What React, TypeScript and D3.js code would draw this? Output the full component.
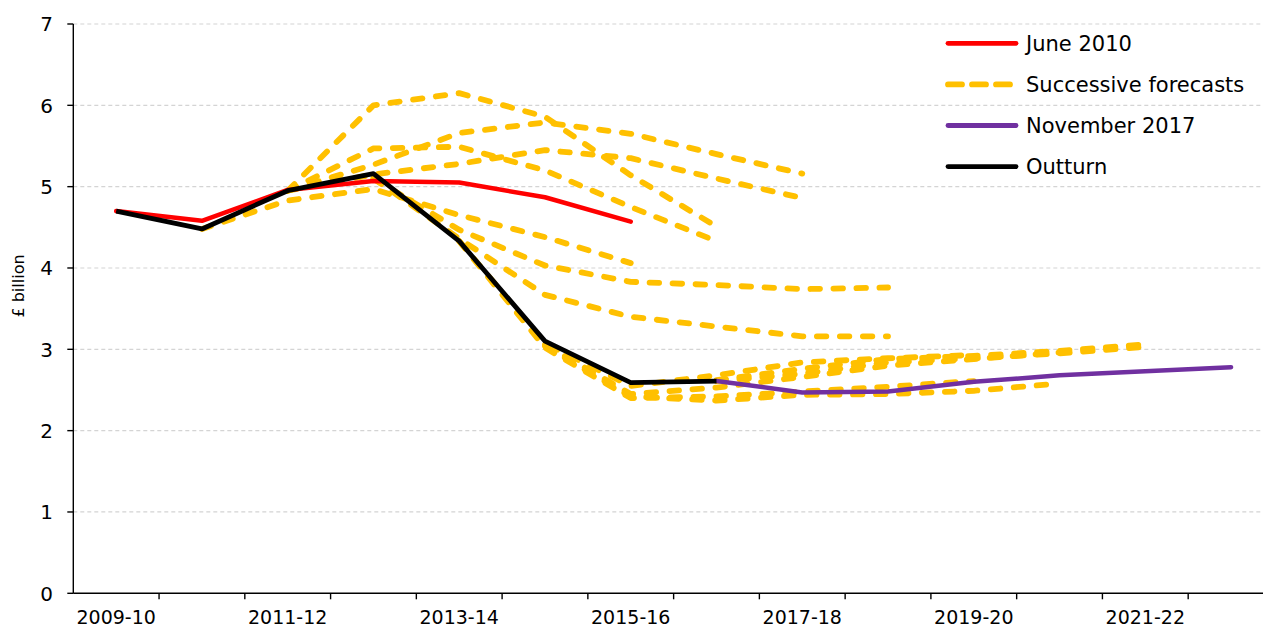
import React from 'react';
import * as d3 from 'd3';

const categories = ['2009-10','2010-11','2011-12','2012-13','2013-14','2014-15','2015-16','2016-17','2017-18','2018-19','2019-20','2020-21','2021-22','2022-23'];
const yTicks = [0,1,2,3,4,5,6,7];

const N = null;
const outturn = [4.70,4.48,4.95,5.16,4.33,3.10,2.59,2.61,N,N,N,N,N,N];
const june2010 = [4.70,4.58,4.96,5.07,5.05,4.87,4.57,N,N,N,N,N,N,N];
const november2017 = [N,N,N,N,N,N,N,2.61,2.47,2.48,2.60,2.68,2.73,2.78];

const fc1 = [N,4.48,4.83,4.97,4.65,4.38,4.06,N,N,N,N,N,N,N];
const fc2 = [N,N,4.95,6.00,6.15,5.86,5.14,4.51,N,N,N,N,N,N];
const fc3 = [N,N,4.95,5.47,5.49,5.20,4.75,4.33,N,N,N,N,N,N];
const fc4 = [N,N,4.95,5.27,5.66,5.79,5.65,5.40,5.16,N,N,N,N,N];
const fc5 = [N,N,4.95,5.15,5.28,5.45,5.35,5.10,4.86,N,N,N,N,N];
const fc6 = [N,N,N,5.10,4.47,4.03,3.83,3.79,3.74,3.76,N,N,N,N];
const fc7 = [N,N,N,5.10,4.36,3.67,3.40,3.28,3.16,3.16,N,N,N,N];
const fc8 = [N,N,N,N,4.33,3.07,2.55,2.68,2.84,2.89,2.93,N,N,N];
const fc9 = [N,N,N,N,4.33,3.02,2.40,2.42,2.48,2.54,2.61,N,N,N];
const fc10 = [N,N,N,N,N,3.06,2.45,2.53,2.66,2.80,2.88,2.96,N,N];
const fc11 = [N,N,N,N,N,3.04,2.42,2.37,2.44,2.45,2.49,2.58,N,N];
const fc12 = [N,N,N,N,N,N,N,2.62,2.76,2.88,2.92,2.98,3.06,N];
const fc13 = [N,N,N,N,N,N,N,2.61,2.70,2.84,2.89,2.95,3.03,N];
const forecasts = [fc1,fc2,fc3,fc4,fc5,fc6,fc7,fc8,fc9,fc10,fc11,fc12,fc13];

const legendItems = [
  { label: 'June 2010', color: '#FF0000', dashed: false },
  { label: 'Successive forecasts', color: '#FFC000', dashed: true },
  { label: 'November 2017', color: '#7030A0', dashed: false },
  { label: 'Outturn', color: '#000000', dashed: false },
];

const W = 1263, H = 630;
const left = 73.3, top = 24, bottom = 593.3;
const step = 85.76;
const FONT = '"DejaVu Sans", Lato, sans-serif';

export default function App() {
  const x = d3.scaleBand<string>().domain(categories).range([left, left + step * categories.length]).padding(0);
  const y = d3.scaleLinear().domain([0, 7]).range([bottom, top]);
  const cx = (i: number) => (x(categories[i]) as number) + x.bandwidth() / 2;
  const line = d3.line<number | null>()
    .defined(d => d !== null)
    .x((_, i) => cx(i))
    .y(d => y(d as number));

  return (
    <svg width={W} height={H} style={{ position: 'absolute', left: 0, top: 0, background: '#fff' }} fontFamily={FONT}>
      {yTicks.filter(t => t > 0).map(t => (
        <line key={'g' + t} x1={left} x2={W} y1={y(t)} y2={y(t)} stroke="#d4d4d4" strokeWidth={1.2} strokeDasharray="4 3" />
      ))}
      <line x1={left} x2={left} y1={top} y2={bottom} stroke="#000" strokeWidth={1.4} />
      <line x1={left} x2={W} y1={bottom} y2={bottom} stroke="#000" strokeWidth={1.4} />
      {yTicks.map(t => (
        <g key={'y' + t}>
          <line x1={left - 6} x2={left} y1={y(t)} y2={y(t)} stroke="#000" strokeWidth={1.4} />
          <text x={53} y={y(t)} dy="0.36em" textAnchor="end" fontSize={20} fill="#000">{t}</text>
        </g>
      ))}
      {categories.map((c, i) => (
        <g key={'x' + c}>
          {i > 0 && <line x1={x(c) as number} x2={x(c) as number} y1={bottom} y2={bottom + 6} stroke="#000" strokeWidth={1.4} />}
          {i % 2 === 0 && <text x={cx(i)} y={624} textAnchor="middle" fontSize={19} fill="#000">{c}</text>}
        </g>
      ))}
      <text transform="translate(24,286) rotate(-90)" textAnchor="middle" fontSize={16} fill="#000">£ billion</text>

      {forecasts.map((f, k) => (
        <path key={'f' + k} d={line(f) || ''} fill="none" stroke="#FFC000" strokeWidth={5.8} strokeDasharray="9.5 13.5" strokeLinecap="round" strokeLinejoin="round" />
      ))}
      <path d={line(june2010) || ''} fill="none" stroke="#FF0000" strokeWidth={4.5} strokeLinecap="round" strokeLinejoin="round" />
      <path d={line(november2017) || ''} fill="none" stroke="#7030A0" strokeWidth={4.5} strokeLinecap="round" strokeLinejoin="round" />
      <path d={line(outturn) || ''} fill="none" stroke="#000" strokeWidth={4.8} strokeLinecap="butt" strokeLinejoin="round" />

      {legendItems.map((it, i) => {
        const ly = 43.3 + i * 41.1;
        return (
          <g key={it.label}>
            <line x1={948} x2={1016} y1={ly} y2={ly} stroke={it.color} strokeWidth={it.dashed ? 5.8 : 4.8}
              strokeLinecap="round" strokeDasharray={it.dashed ? '14 10' : undefined} />
            <text x={1026} y={ly} dy="0.36em" fontSize={21} fill="#000">{it.label}</text>
          </g>
        );
      })}
    </svg>
  );
}
